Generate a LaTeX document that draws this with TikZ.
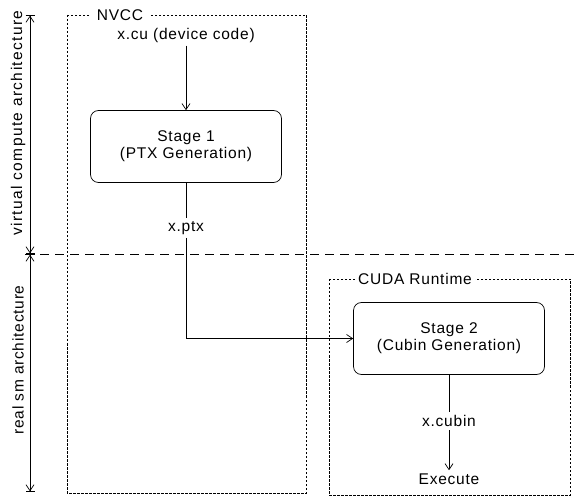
\documentclass[tikz,border=0pt]{standalone}
\usepackage{fontspec}
\setmainfont[LetterSpace=5]{Liberation Sans}
\usetikzlibrary{positioning,arrows.meta}

\begin{document}
\begin{tikzpicture}[x=1pt, y=-1pt, line width=0.7pt,
        font=\fontsize{15.5}{17}\selectfont,
        >={Straight Barb[length=6pt, width=8pt]},
        span/.style={{Bar[width=9pt]Straight Barb[length=6pt, width=8pt]}-{Straight Barb[length=6pt, width=8pt]Bar[width=9pt]}},
        stagebox/.style={draw, rounded corners=8pt, minimum width=191pt, minimum height=72pt, align=center},
        region/.style={draw, dash pattern=on 2.5pt off 1.5pt},
        regionlabel/.style={fill=white, inner sep=3pt},
        file/.style={inner sep=3pt}]
        \useasboundingbox (0,0) rectangle (578,502);
        % compiler and runtime regions
        \draw[region] (67,15) rectangle (306,493);
        \node[regionlabel, inner xsep=7pt] (nvcc) at (120,15) {NVCC};
        \draw[region] (329,279) rectangle (570,495);
        \node[regionlabel] (cudart) at (415,279) {CUDA Runtime};
        % virtual / real split
        \coordinate (top) at (30,15);
        \coordinate (mid) at (30,254);
        \coordinate (bot) at (30,492);
        \coordinate (split) at (578,254);
        \draw[dash pattern=on 9pt off 6pt] (25,254) -- (split);
        \draw[span] (top) -- (mid);
        \draw[span] (mid) -- (bot);
        \node[rotate=90, font=\fontsize{15.5}{17}\selectfont\addfontfeature{LetterSpace=9}] (virt) at (18,123) {virtual compute architecture};
        \node[rotate=90] (real) at (18,360) {real sm architecture};
        % stages
        \node[file] (xcu) at (186,35) {x.cu (device code)};
        \node[stagebox] (stage1) at (186,146.5) {Stage 1\\(PTX Generation)};
        \node[file] (xptx) at (186,228) {x.ptx};
        \node[stagebox] (stage2) at (449,338.5) {Stage 2\\(Cubin Generation)};
        \node[file] (xcubin) at (449,421) {x.cubin};
        \node[file] (exec) at (449,479) {Execute};
        \draw[->] (xcu) -- (stage1);
        \draw (stage1) -- (xptx);
        \draw[->] (xptx) |- (stage2);
        \draw (stage2) -- (xcubin);
        \draw[->] (xcubin) -- (exec);
\end{tikzpicture}
\end{document}
